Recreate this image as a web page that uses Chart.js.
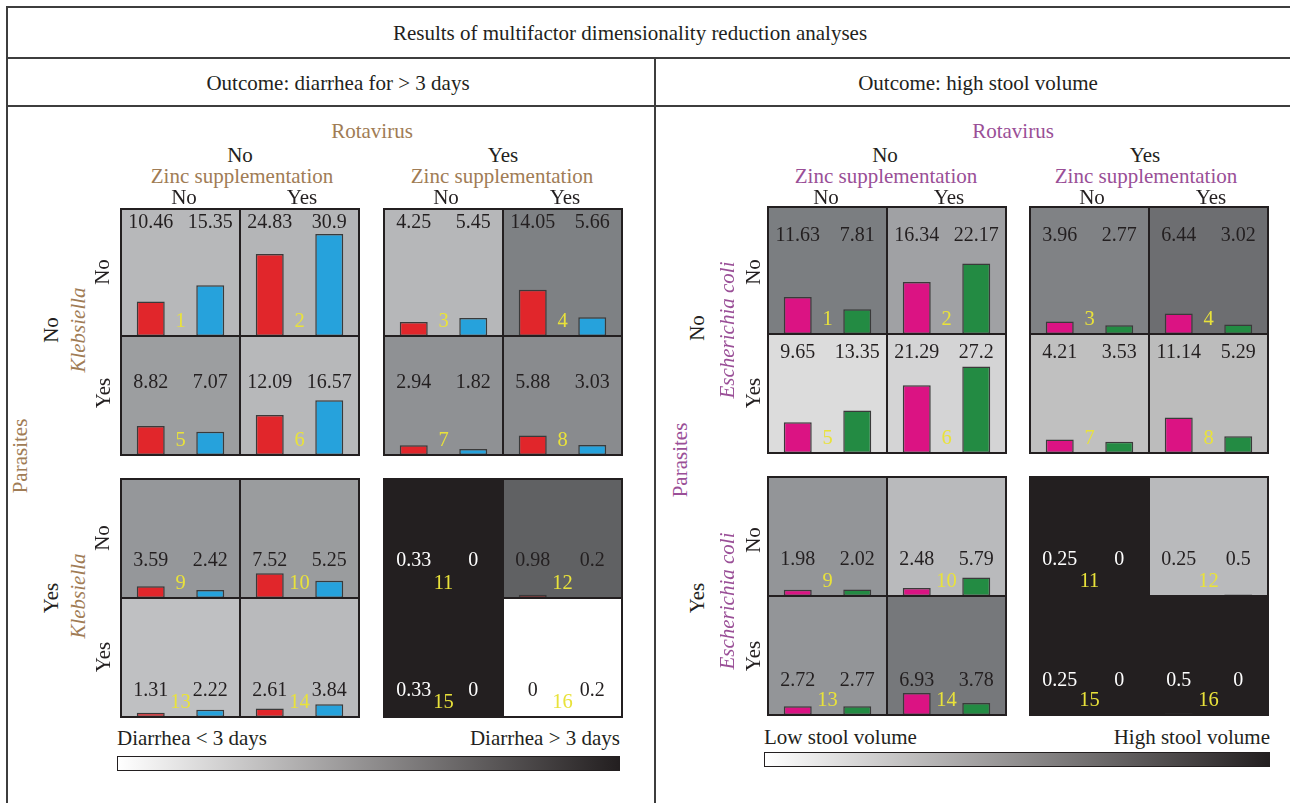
<!DOCTYPE html>
<html><head><meta charset="utf-8">
<script src="https://cdn.jsdelivr.net/npm/chart.js@4.4.1/dist/chart.umd.min.js"></script>
<style>
html,body{margin:0;padding:0;background:#fff}
body{width:1290px;height:803px;overflow:hidden;position:relative;font-family:"Liberation Serif","Times New Roman",serif;color:#231f20}
.t{position:absolute;white-space:nowrap;transform:translate(-50%,-50%);font-size:21px;line-height:1}
.r{transform:translate(-50%,-50%) rotate(-90deg)}
.i{font-style:italic}
.ln{position:absolute;background:#3d3d3d}
.cv{position:absolute;display:block}
.blk{position:absolute;border:1px solid #231f20;pointer-events:none}
.grad{position:absolute;border:1px solid #231f20;box-sizing:border-box;background:linear-gradient(to right,#ffffff,#231f20)}
</style>
</head><body>
<script>
// ---------- DATA ----------
const chartTitle = "Results of multifactor dimensionality reduction analyses";
const outcomeTitles = ["Outcome: diarrhea for > 3 days", "Outcome: high stool volume"];
const cellNumbers = [1,2,3,4,5,6,7,8,9,10,11,12,13,14,15,16];
const barCategories = ["A", "B"];
// left panel: diarrhea (red) and (blue)
const diarrheaRed  = [10.46, 24.83, 4.25, 14.05, 8.82, 12.09, 2.94, 5.88, 3.59, 7.52, 0.33, 0.98, 1.31, 2.61, 0.33, 0];
const diarrheaBlue = [15.35, 30.9, 5.45, 5.66, 7.07, 16.57, 1.82, 3.03, 2.42, 5.25, 0, 0.2, 2.22, 3.84, 0, 0.2];
// right panel: stool volume (magenta) and (green)
const stoolMagenta = [11.63, 16.34, 3.96, 6.44, 9.65, 21.29, 4.21, 11.14, 1.98, 2.48, 0.25, 0.25, 2.72, 6.93, 0.25, 0.5];
const stoolGreen   = [7.81, 22.17, 2.77, 3.02, 13.35, 27.2, 3.53, 5.29, 2.02, 5.79, 0, 0.5, 2.77, 3.78, 0, 0];
const legendLeft  = ["Diarrhea < 3 days", "Diarrhea > 3 days"];
const legendRight = ["Low stool volume", "High stool volume"];

// ---------- STYLES ----------
const leftCellShade  = ['#b7b8ba','#b4b5b7','#b6b7b9','#7e8184','#9c9ea0','#b7b8ba','#8f9194','#898b8e','#95979a','#9a9c9e','#231f20','#606163','#bfc0c2','#b9babc','#231f20','#ffffff'];
const rightCellShade = ['#7b7e81','#a0a1a4','#808285','#6d6e71','#dcdcdc','#d4d4d5','#c0c0c0','#bcbcbc','#939598','#b9babc','#231f20','#b9babc','#939598','#76787b','#231f20','#231f20'];
const YELLOW = '#e9e23a';
const TAN = '#a07c55';
const PURPLE = '#9a4f97';

const layouts = {
  left:  {cols:[121,240,384,503], rows:[209,336,479,598], h:[127,119,119,119], labelOff:[14,47,82,93], pxu:3.3},
  right: {cols:[768,887,1030,1149], rows:[207,334,477,596], h:[127,119,119,119], labelOff:[29,19,83,85], pxu:3.18}
};
const CELL_W = 119;

function txt(s, x, y, cls, color, size){
  const d = document.createElement('div');
  d.className = 't' + (cls ? ' ' + cls : '');
  d.textContent = s;
  d.style.left = x + 'px'; d.style.top = y + 'px';
  if (color) d.style.color = color;
  if (size) d.style.fontSize = size + 'px';
  document.body.appendChild(d);
  return d;
}
function ln(x, y, w, h){
  const d = document.createElement('div'); d.className='ln';
  Object.assign(d.style,{left:x+'px',top:y+'px',width:w+'px',height:h+'px'});
  document.body.appendChild(d);
}
function box(cls, x, y, w, h){
  const d = document.createElement('div'); d.className=cls;
  Object.assign(d.style,{left:x+'px',top:y+'px',width:w+'px',height:h+'px'});
  document.body.appendChild(d);
}
function lum(hex){
  const n = parseInt(hex.slice(1),16);
  return (0.299*((n>>16)&255) + 0.587*((n>>8)&255) + 0.114*(n&255))/255;
}

// frame
ln(6,6,1284,2); ln(6,57,1284,2); ln(6,105,1284,2); ln(6,6,2,797); ln(654,57,2,746);
txt(chartTitle, 630, 33);
txt(outcomeTitles[0], 338, 83);
txt(outcomeTitles[1], 978, 83);

const cellPlugin = {
  id: 'cellDeco',
  beforeDraw(chart, args, o){
    const c = chart.ctx; c.save(); c.fillStyle = o.bg; c.fillRect(0,0,chart.width,chart.height); c.restore();
  },
  afterDatasetsDraw(chart, args, o){
    const c = chart.ctx, xs = chart.scales.x, ds = chart.data.datasets[0];
    c.save();
    c.font = '20px "Liberation Serif"'; c.textAlign='center'; c.textBaseline='middle';
    c.fillStyle = o.textColor;
    ds.data.forEach((v,i)=> c.fillText(String(v), xs.getPixelForValue(i), o.labelY));
    c.font = '20.5px "Liberation Serif"';
    c.fillStyle = YELLOW;
    c.fillText(String(o.num), chart.width/2, chart.height - 14);
    c.strokeStyle = '#231f20'; c.lineWidth = 2; c.strokeRect(0,0,chart.width,chart.height);
    c.restore();
  }
};

function buildPanel(key, s1, s2, c1, c2, shades){
  const L = layouts[key];
  for (let k = 0; k < 16; k++){
    const r = Math.floor(k/4), col = k%4;
    const x = L.cols[col], y = L.rows[r], h = L.h[r];
    const cv = document.createElement('canvas');
    cv.className = 'cv'; cv.width = CELL_W; cv.height = h;
    cv.style.left = x + 'px'; cv.style.top = y + 'px';
    document.body.appendChild(cv);
    const bg = shades[k];
    new Chart(cv, {
      type: 'bar',
      data: { labels: barCategories, datasets: [{ data: [s1[k], s2[k]], backgroundColor: [c1, c2],
        borderColor: '#3a3a3a', borderWidth: 1.5, borderSkipped: false,
        categoryPercentage: 1, barPercentage: 0.47 }] },
      options: {
        responsive: false, animation: false, events: [],
        layout: { padding: 0 },
        plugins: { legend: {display:false}, tooltip: {enabled:false},
          cellDeco: { bg: bg, textColor: lum(bg) < 0.2 ? '#ffffff' : '#231f20', labelY: L.labelOff[r], num: cellNumbers[k] } },
        scales: { x: { display: false }, y: { display: false, min: 0, max: h / L.pxu } }
      },
      plugins: [cellPlugin]
    });
  }
  // block outlines
  box('blk', L.cols[0]-1, L.rows[0]-1, 238, L.h[0]+L.h[1]);
  box('blk', L.cols[2]-1, L.rows[0]-1, 238, L.h[0]+L.h[1]);
  box('blk', L.cols[0]-1, L.rows[2]-1, 238, L.h[2]+L.h[3]);
  box('blk', L.cols[2]-1, L.rows[2]-1, 238, L.h[2]+L.h[3]);
}

buildPanel('left', diarrheaRed, diarrheaBlue, '#e1262b', '#26a2dc', leftCellShade);
buildPanel('right', stoolMagenta, stoolGreen, '#db1383', '#238b43', rightCellShade);

// left headers
txt('Rotavirus', 372, 131, '', TAN);
txt('No', 240, 155); txt('Yes', 503, 155);
txt('Zinc supplementation', 242, 176, '', TAN); txt('Zinc supplementation', 502, 176, '', TAN);
txt('No', 184, 197); txt('Yes', 302, 197); txt('No', 446, 197); txt('Yes', 565, 197);
txt('Parasites', 20, 456, 'r', TAN);
txt('No', 51, 330, 'r'); txt('Klebsiella', 78, 330, 'r i', TAN);
txt('No', 102, 272, 'r'); txt('Yes', 103, 393, 'r');
txt('Yes', 51, 598, 'r'); txt('Klebsiella', 78, 596, 'r i', TAN);
txt('No', 102, 538, 'r'); txt('Yes', 103, 657, 'r');

// right headers
txt('Rotavirus', 1013, 131, '', PURPLE);
txt('No', 885, 155); txt('Yes', 1145, 155);
txt('Zinc supplementation', 886, 176, '', PURPLE); txt('Zinc supplementation', 1146, 176, '', PURPLE);
txt('No', 826, 197); txt('Yes', 949, 197); txt('No', 1092, 197); txt('Yes', 1211, 197);
txt('Parasites', 680, 460, 'r', PURPLE);
txt('No', 697, 328, 'r'); txt('Escherichia coli', 727, 330, 'r i', PURPLE);
txt('No', 753, 272, 'r'); txt('Yes', 753, 393, 'r');
txt('Yes', 697, 598, 'r'); txt('Escherichia coli', 727, 601, 'r i', PURPLE);
txt('No', 753, 540, 'r'); txt('Yes', 753, 656, 'r');

// legends
let d = txt(legendLeft[0], 117, 738); d.style.transform='translate(0,-50%)';
d = txt(legendLeft[1], 620, 738); d.style.transform='translate(-100%,-50%)';
box('grad', 117, 756, 503, 15);
d = txt(legendRight[0], 764, 737); d.style.transform='translate(0,-50%)';
d = txt(legendRight[1], 1270, 737); d.style.transform='translate(-100%,-50%)';
box('grad', 764, 752, 506, 15);
</script>
</body></html>
